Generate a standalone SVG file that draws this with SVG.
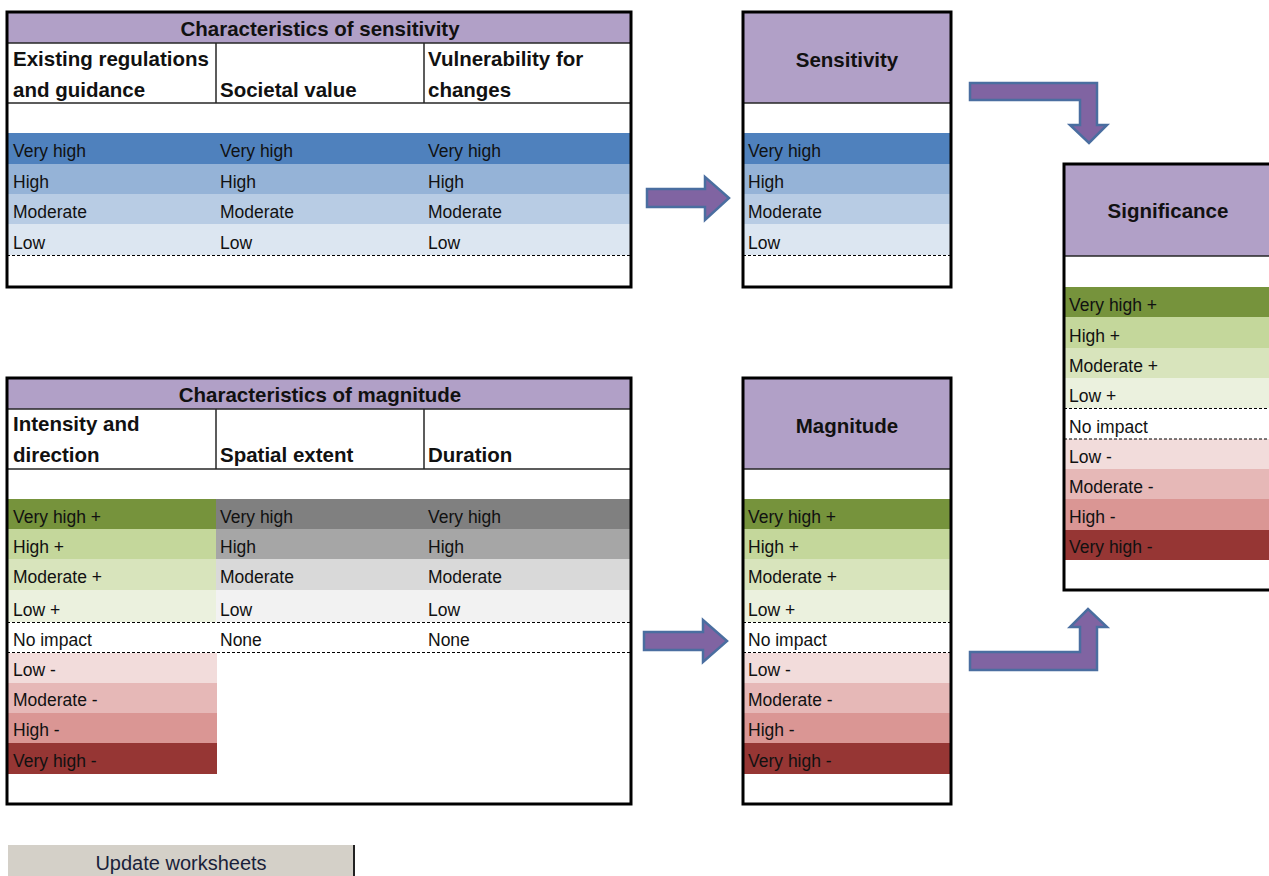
<svg xmlns="http://www.w3.org/2000/svg" width="1269" height="876" viewBox="0 0 1269 876">
<style>
.bg{fill:#fff}
.border{fill:none;stroke:#000;stroke-width:3}
.line{stroke:#262626;stroke-width:1.5}
.dash{stroke:#000;stroke-width:1.2;stroke-dasharray:3 2}
.hd{fill:#B1A0C7}
.t{font-family:"Liberation Sans",Arial,sans-serif;font-size:17.5px;fill:#111}
.b{font-family:"Liberation Sans",Arial,sans-serif;font-size:20.5px;font-weight:bold;fill:#111}
.c{text-anchor:middle}
.arrow{fill:#8064A2;stroke:#4A6EA0;stroke-width:2.5;stroke-linejoin:miter}
.s1{fill:#4F81BD}.s2{fill:#95B3D7}.s3{fill:#B8CCE4}.s4{fill:#DCE6F1}
.g1{fill:#76933C}.g2{fill:#C4D79B}.g3{fill:#D8E4BC}.g4{fill:#EBF1DE}
.r1{fill:#F2DCDB}.r2{fill:#E6B8B7}.r3{fill:#DA9694}.r4{fill:#963634}
.k1{fill:#808080}.k2{fill:#A6A6A6}.k3{fill:#D9D9D9}.k4{fill:#F2F2F2}
</style>
<rect x="0" y="0" width="1269" height="876" fill="#fff"/>

<g id="characteristics-of-sensitivity">
  <rect class="bg" x="7" y="12" width="624" height="275"/>
  <rect class="hd" x="7" y="12" width="624" height="31"/>
  <rect class="s1" x="7" y="133" width="624" height="31"/>
  <rect class="s2" x="7" y="164" width="624" height="30"/>
  <rect class="s3" x="7" y="194" width="624" height="30"/>
  <rect class="s4" x="7" y="224" width="624" height="31"/>
  <line class="line" x1="7" y1="43" x2="631" y2="43"/>
  <line class="line" x1="7" y1="103" x2="631" y2="103"/>
  <line class="line" x1="216" y1="43" x2="216" y2="103"/>
  <line class="line" x1="424" y1="43" x2="424" y2="103"/>
  <line class="dash" x1="7" y1="255.5" x2="631" y2="255.5"/>
  <rect class="border" x="7" y="12" width="624" height="275"/>
  <text class="b c" x="320" y="36">Characteristics of sensitivity</text>
  <text class="b" x="13" y="66">Existing regulations</text>
  <text class="b" x="13" y="97">and guidance</text>
  <text class="b" x="220" y="97">Societal value</text>
  <text class="b" x="428" y="66">Vulnerability for</text>
  <text class="b" x="428" y="97">changes</text>
  <text class="t" x="13" y="157">Very high</text><text class="t" x="220" y="157">Very high</text><text class="t" x="428" y="157">Very high</text>
  <text class="t" x="13" y="188">High</text><text class="t" x="220" y="188">High</text><text class="t" x="428" y="188">High</text>
  <text class="t" x="13" y="218">Moderate</text><text class="t" x="220" y="218">Moderate</text><text class="t" x="428" y="218">Moderate</text>
  <text class="t" x="13" y="249">Low</text><text class="t" x="220" y="249">Low</text><text class="t" x="428" y="249">Low</text>
</g>

<g id="sensitivity">
  <rect class="bg" x="743" y="12" width="208" height="275"/>
  <rect class="hd" x="743" y="12" width="208" height="91"/>
  <rect class="s1" x="743" y="133" width="208" height="31"/>
  <rect class="s2" x="743" y="164" width="208" height="30"/>
  <rect class="s3" x="743" y="194" width="208" height="30"/>
  <rect class="s4" x="743" y="224" width="208" height="31"/>
  <line class="line" x1="743" y1="103" x2="951" y2="103"/>
  <line class="dash" x1="743" y1="255.5" x2="951" y2="255.5"/>
  <rect class="border" x="743" y="12" width="208" height="275"/>
  <text class="b c" x="847" y="67">Sensitivity</text>
  <text class="t" x="748" y="157">Very high</text>
  <text class="t" x="748" y="188">High</text>
  <text class="t" x="748" y="218">Moderate</text>
  <text class="t" x="748" y="249">Low</text>
</g>

<g id="characteristics-of-magnitude">
  <rect class="bg" x="7" y="378" width="624" height="426"/>
  <rect class="hd" x="7" y="378" width="624" height="31"/>
  <rect class="g1" x="7" y="499" width="209" height="30"/>
  <rect class="g2" x="7" y="529" width="209" height="30"/>
  <rect class="g3" x="7" y="559" width="209" height="31"/>
  <rect class="g4" x="7" y="590" width="209" height="32"/>
  <rect class="k1" x="216" y="499" width="415" height="30"/>
  <rect class="k2" x="216" y="529" width="415" height="30"/>
  <rect class="k3" x="216" y="559" width="415" height="31"/>
  <rect class="k4" x="216" y="590" width="415" height="32"/>
  <rect class="r1" x="7" y="653" width="210" height="30"/>
  <rect class="r2" x="7" y="683" width="210" height="30"/>
  <rect class="r3" x="7" y="713" width="210" height="30"/>
  <rect class="r4" x="7" y="743" width="210" height="31"/>
  <line class="line" x1="7" y1="409" x2="631" y2="409"/>
  <line class="line" x1="7" y1="469" x2="631" y2="469"/>
  <line class="line" x1="216" y1="409" x2="216" y2="469"/>
  <line class="line" x1="424" y1="409" x2="424" y2="469"/>
  <line class="dash" x1="7" y1="622.5" x2="631" y2="622.5"/>
  <line class="dash" x1="7" y1="652.5" x2="631" y2="652.5"/>
  <rect class="border" x="7" y="378" width="624" height="426"/>
  <text class="b c" x="320" y="402">Characteristics of magnitude</text>
  <text class="b" x="13" y="431">Intensity and</text>
  <text class="b" x="13" y="462">direction</text>
  <text class="b" x="220" y="462">Spatial extent</text>
  <text class="b" x="428" y="462">Duration</text>
  <text class="t" x="13" y="523">Very high +</text><text class="t" x="220" y="523">Very high</text><text class="t" x="428" y="523">Very high</text>
  <text class="t" x="13" y="553">High +</text><text class="t" x="220" y="553">High</text><text class="t" x="428" y="553">High</text>
  <text class="t" x="13" y="583">Moderate +</text><text class="t" x="220" y="583">Moderate</text><text class="t" x="428" y="583">Moderate</text>
  <text class="t" x="13" y="616">Low +</text><text class="t" x="220" y="616">Low</text><text class="t" x="428" y="616">Low</text>
  <text class="t" x="13" y="646">No impact</text><text class="t" x="220" y="646">None</text><text class="t" x="428" y="646">None</text>
  <text class="t" x="13" y="676">Low -</text>
  <text class="t" x="13" y="706">Moderate -</text>
  <text class="t" x="13" y="736">High -</text>
  <text class="t" x="13" y="767">Very high -</text>
</g>

<g id="magnitude">
  <rect class="bg" x="743" y="378" width="208" height="426"/>
  <rect class="hd" x="743" y="378" width="208" height="91"/>
  <rect class="g1" x="743" y="499" width="208" height="30"/>
  <rect class="g2" x="743" y="529" width="208" height="30"/>
  <rect class="g3" x="743" y="559" width="208" height="31"/>
  <rect class="g4" x="743" y="590" width="208" height="32"/>
  <rect class="r1" x="743" y="653" width="208" height="30"/>
  <rect class="r2" x="743" y="683" width="208" height="30"/>
  <rect class="r3" x="743" y="713" width="208" height="30"/>
  <rect class="r4" x="743" y="743" width="208" height="31"/>
  <line class="line" x1="743" y1="469" x2="951" y2="469"/>
  <line class="dash" x1="743" y1="622.5" x2="951" y2="622.5"/>
  <line class="dash" x1="743" y1="652.5" x2="951" y2="652.5"/>
  <rect class="border" x="743" y="378" width="208" height="426"/>
  <text class="b c" x="847" y="433">Magnitude</text>
  <text class="t" x="748" y="523">Very high +</text>
  <text class="t" x="748" y="553">High +</text>
  <text class="t" x="748" y="583">Moderate +</text>
  <text class="t" x="748" y="616">Low +</text>
  <text class="t" x="748" y="646">No impact</text>
  <text class="t" x="748" y="676">Low -</text>
  <text class="t" x="748" y="706">Moderate -</text>
  <text class="t" x="748" y="736">High -</text>
  <text class="t" x="748" y="767">Very high -</text>
</g>

<g id="significance">
  <rect class="bg" x="1064" y="164" width="208" height="426"/>
  <rect class="hd" x="1064" y="164" width="208" height="92"/>
  <rect class="g1" x="1064" y="287" width="208" height="30"/>
  <rect class="g2" x="1064" y="317" width="208" height="31"/>
  <rect class="g3" x="1064" y="348" width="208" height="30"/>
  <rect class="g4" x="1064" y="378" width="208" height="30"/>
  <rect class="r1" x="1064" y="439" width="208" height="30"/>
  <rect class="r2" x="1064" y="469" width="208" height="30"/>
  <rect class="r3" x="1064" y="499" width="208" height="31"/>
  <rect class="r4" x="1064" y="530" width="208" height="30"/>
  <line class="line" x1="1064" y1="256" x2="1272" y2="256"/>
  <line class="dash" x1="1064" y1="408.5" x2="1272" y2="408.5"/>
  <line class="dash" x1="1064" y1="439" x2="1272" y2="439"/>
  <rect class="border" x="1064" y="164" width="208" height="426"/>
  <text class="b c" x="1168" y="218">Significance</text>
  <text class="t" x="1069" y="311">Very high +</text>
  <text class="t" x="1069" y="342">High +</text>
  <text class="t" x="1069" y="372">Moderate +</text>
  <text class="t" x="1069" y="402">Low +</text>
  <text class="t" x="1069" y="433">No impact</text>
  <text class="t" x="1069" y="463">Low -</text>
  <text class="t" x="1069" y="493">Moderate -</text>
  <text class="t" x="1069" y="523">High -</text>
  <text class="t" x="1069" y="553">Very high -</text>
</g>

<g id="connectors">
  <polygon class="arrow" points="647,189 705,189 705,177 729,198 705,220 705,207 647,207"/>
  <polygon class="arrow" points="644,632 703,632 703,620 727,641 703,662 703,650 644,650"/>
  <polygon class="arrow" points="970,83 1097,83 1097,125 1107,125 1089,143 1070,125 1080,125 1080,100 970,100"/>
  <polygon class="arrow" points="970,652 1080,652 1080,627 1070,627 1088,609 1107,627 1097,627 1097,670 970,670"/>
</g>

<g id="update-worksheets">
  <rect x="8" y="845" width="346" height="40" fill="#D4D0C8"/>
  <line x1="354" y1="845" x2="354" y2="876" stroke="#222" stroke-width="2"/>
  <text x="181" y="870" text-anchor="middle" font-family="'Liberation Sans',Arial,sans-serif" font-size="20" fill="#1A1F3A">Update worksheets</text>
</g>
</svg>
